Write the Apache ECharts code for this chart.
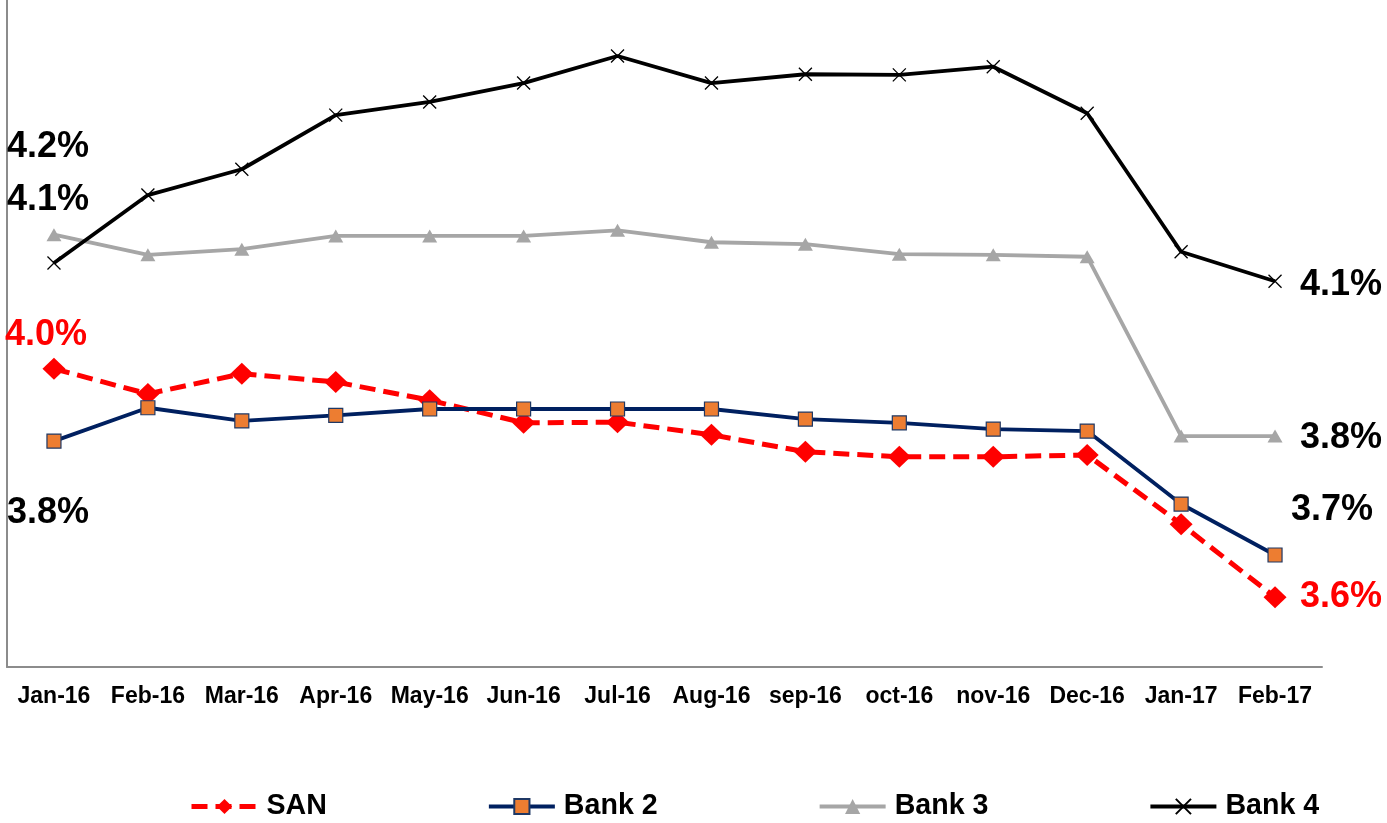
<!DOCTYPE html>
<html>
<head>
<meta charset="utf-8">
<script src="https://cdn.jsdelivr.net/npm/echarts@6/dist/echarts.min.js"></script>
<style>
  html, body { margin: 0; padding: 0; background: #ffffff; }
  #chart { width: 1387px; height: 823px; }
</style>
</head>
<body>
<div id="chart"></div>
<script>
// Monthly rates (%), Jan-16 to Feb-17
const months = ['Jan-16', 'Feb-16', 'Mar-16', 'Apr-16', 'May-16', 'Jun-16', 'Jul-16',
                'Aug-16', 'sep-16', 'oct-16', 'nov-16', 'Dec-16', 'Jan-17', 'Feb-17'];

const san   = [3.954, 3.914, 3.946, 3.933, 3.904, 3.868, 3.869, 3.849, 3.822, 3.814, 3.814, 3.817, 3.707, 3.591];
const bank2 = [3.839, 3.892, 3.871, 3.880, 3.890, 3.890, 3.890, 3.890, 3.874, 3.868, 3.858, 3.855, 3.739, 3.658];
const bank3 = [4.167, 4.135, 4.144, 4.165, 4.165, 4.165, 4.174, 4.155, 4.152, 4.136, 4.135, 4.132, 3.847, 3.847];
const bank4 = [4.122, 4.230, 4.271, 4.357, 4.378, 4.408, 4.451, 4.408, 4.422, 4.421, 4.434, 4.360, 4.140, 4.093];

const FONT = '"Liberation Sans", Arial, sans-serif';

// Value labels on the first and last month, shifted beside the markers
function withEndLabels(values, color, firstOffset, lastOffset) {
  const last = values.length - 1;
  return values.map(function (v, i) {
    if (i !== 0 && i !== last) return v;
    return {
      value: v,
      label: {
        show: true,
        position: 'inside',
        offset: i === 0 ? firstOffset : lastOffset,
        formatter: function (p) { return p.value.toFixed(1) + '%'; },
        color: color,
        fontFamily: FONT,
        fontWeight: 'bold',
        fontSize: 36
      }
    };
  });
}

const chart = echarts.init(document.getElementById('chart'), null, { renderer: 'canvas' });

chart.setOption({
  animation: false,
  backgroundColor: '#ffffff',
  grid: { left: 7, right: 65, top: 0, bottom: 156, containLabel: false },
  xAxis: {
    type: 'category',
    data: months,
    boundaryGap: true,
    axisLine: { show: true, lineStyle: { color: '#8c8c8c', width: 2 } },
    axisTick: { show: false },
    axisLabel: {
      color: '#000000',
      fontFamily: FONT,
      fontWeight: 'bold',
      fontSize: 23,
      margin: 18,
      interval: 0
    },
    splitLine: { show: false }
  },
  yAxis: {
    type: 'value',
    min: 3.48,
    max: 4.54,
    axisLine: { show: true, lineStyle: { color: '#8c8c8c', width: 2 } },
    axisTick: { show: false },
    axisLabel: { show: false },
    splitLine: { show: false }
  },
  legend: {
    left: 189,
    top: 792,
    padding: 0,
    itemGap: 160,
    itemWidth: 66,
    itemHeight: 19,
    textStyle: {
      color: '#000000',
      fontFamily: FONT,
      fontWeight: 'bold',
      fontSize: 28.6,
      padding: [0, 0, 0, 4]
    },
    data: [
      { name: 'SAN', lineStyle: { width: 5 } },
      { name: 'Bank 2', lineStyle: { width: 4 } },
      { name: 'Bank 3', lineStyle: { width: 4 } },
      { name: 'Bank 4', lineStyle: { width: 4 } }
    ]
  },
  series: [
    {
      name: 'SAN',
      type: 'line',
      data: withEndLabels(san, '#ff0000', [-8, -34], [66, 0]),
      symbol: 'diamond',
      symbolSize: [23, 22],
      itemStyle: { color: '#ff0000' },
      lineStyle: { color: '#ff0000', width: 5, type: [16, 8] },
      z: 2
    },
    {
      name: 'Bank 2',
      type: 'line',
      data: withEndLabels(bank2, '#000000', [-6, 72], [57, -45]),
      symbol: 'rect',
      symbolSize: 14,
      itemStyle: { color: '#ed7d31', borderColor: '#1f3864', borderWidth: 1.2 },
      lineStyle: { color: '#002060', width: 3.8 },
      z: 3
    },
    {
      name: 'Bank 3',
      type: 'line',
      data: withEndLabels(bank3, '#000000', [-6, -88], [66, 2]),
      symbol: 'triangle',
      symbolSize: [15, 13],
      itemStyle: { color: '#a6a6a6' },
      lineStyle: { color: '#a6a6a6', width: 3.8 },
      z: 4
    },
    {
      name: 'Bank 4',
      type: 'line',
      data: withEndLabels(bank4, '#000000', [-6, -63], [66, 4]),
      symbol: 'path://M0,0L10,10M10,0L0,10',
      symbolSize: 13,
      itemStyle: { color: '#000000', borderColor: '#000000', borderWidth: 1.3 },
      lineStyle: { color: '#000000', width: 3.8 },
      z: 5
    }
  ]
});
</script>
</body>
</html>
